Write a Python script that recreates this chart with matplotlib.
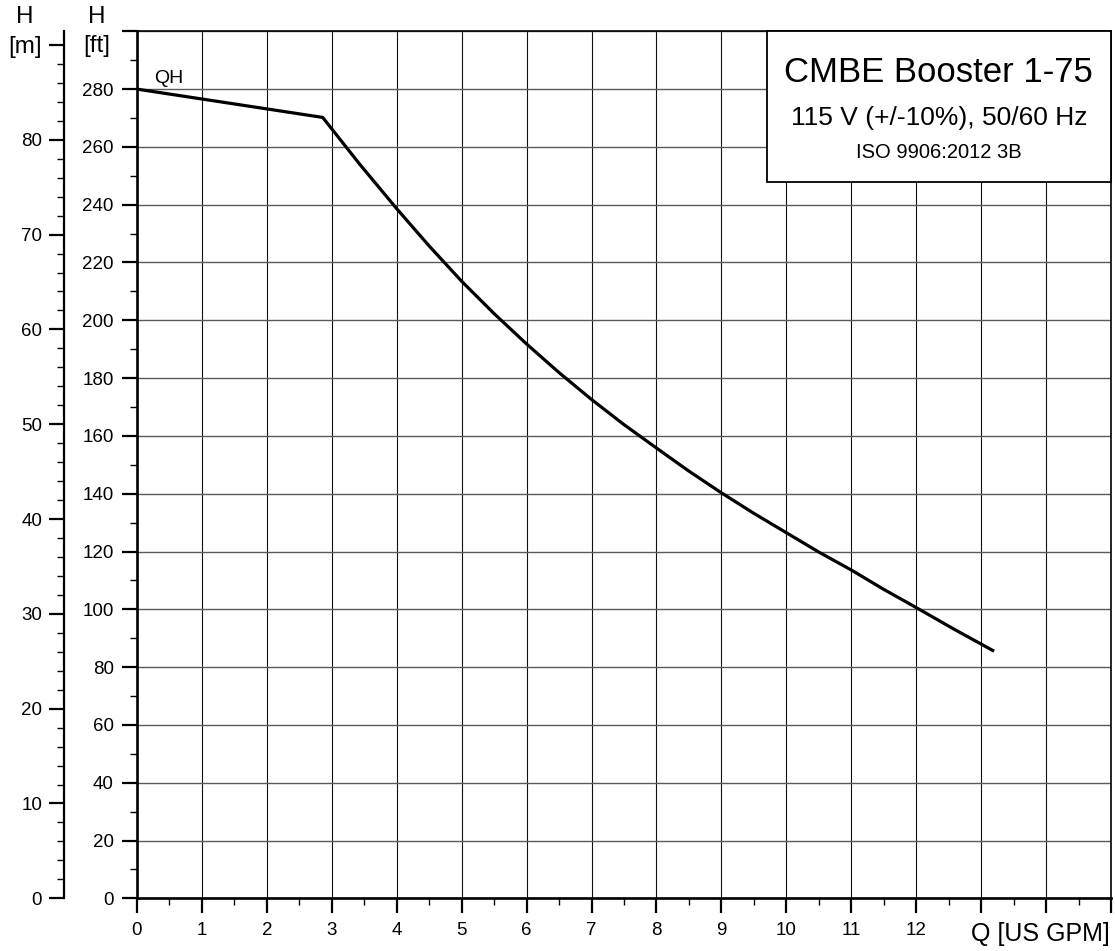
import matplotlib
matplotlib.use("Agg")
import matplotlib.pyplot as plt
from matplotlib.patches import Rectangle
from matplotlib.ticker import MultipleLocator

plt.rcParams['font.family'] = ['Liberation Sans', 'DejaVu Sans']

# Data (flow Q [US GPM], head H [ft])
q_gpm = [0, 2.86, 3.43, 4.0, 4.5, 5.0, 5.5, 6.0, 6.5, 7.0, 7.5, 8.0, 8.5, 9.0,
         9.5, 10.0, 10.5, 11.0, 11.5, 12.0, 12.6, 13.2]
h_ft = [280, 270.2, 254.0, 238.6, 225.7, 213.5, 202.3, 191.8, 181.9, 172.6, 163.9, 155.8, 147.8, 140.3,
        133.2, 126.5, 119.8, 113.6, 106.9, 100.6, 92.9, 85.5]

x_ticks = list(range(0, 16))
x_labels = [str(i) for i in range(0, 13)] + ["", "", ""]
ft_ticks = list(range(0, 301, 20))
ft_labels = [str(v) for v in range(0, 281, 20)] + [""]
m_ticks = list(range(0, 91, 10))
m_labels = [str(v) for v in range(0, 81, 10)] + ["[m]"]

title_lines = ["CMBE Booster 1-75", "115 V (+/-10%), 50/60 Hz", "ISO 9906:2012 3B"]

W, H = 1115, 951
fig = plt.figure(figsize=(W / 100, H / 100), dpi=100)

left, right, top, bottom = 137, 1111, 31.3, 898.3
ax = fig.add_axes([left / W, 1 - bottom / H, (right - left) / W, (bottom - top) / H])
ax.set_xlim(0, 15)
ax.set_ylim(0, 300)

ax.set_xticks(x_ticks)
ax.set_xticklabels(x_labels)
ax.xaxis.set_minor_locator(MultipleLocator(0.5))
ax.set_yticks(ft_ticks)
ax.set_yticklabels(ft_labels)
ax.yaxis.set_minor_locator(MultipleLocator(10))

ax.tick_params(which='major', length=10.8, width=1.6, direction='out', labelsize=13.5, pad=6, color='black')
ax.tick_params(which='minor', length=5, width=1.0, direction='out', color='black')

ax.xaxis.grid(True, which='major', color='#111111', lw=0.8)
ax.yaxis.grid(True, which='major', color='#5a5a5a', lw=1.0)
ax.set_axisbelow(True)

for s in ['left', 'bottom']:
    ax.spines[s].set_linewidth(1.9)
for s in ['top', 'right']:
    ax.spines[s].set_linewidth(1.2)

ax.plot(q_gpm, h_ft, color='black', lw=2.3, solid_joinstyle='round', solid_capstyle='butt', zorder=5)

ax.text(154 / W, 1 - 83 / H, "QH", transform=fig.transFigure, fontsize=14, ha='left', va='baseline')

# Title box
bx0 = (766.7 - left) / (right - left)
by0 = (bottom - 182.3) / (bottom - top)
rect = Rectangle((bx0, by0), 1 - bx0, 1 - by0, transform=ax.transAxes, facecolor='white',
                 edgecolor='black', lw=1.3, zorder=10, clip_on=False)
ax.add_patch(rect)
cx = (bx0 + 1) / 2
for txt, ypx, fs in zip(title_lines, [72.8, 117.5, 152.5], [25, 19, 14.5]):
    ax.text(cx, (bottom - ypx) / (bottom - top), txt, transform=ax.transAxes, fontsize=fs,
            ha='center', va='center', zorder=11)

# Secondary metre axis
axm = fig.add_axes([64 / W, 1 - bottom / H, 0.0001, (bottom - top) / H])
axm.set_ylim(0, 300 / 3.28084)
axm.set_xticks([])
for s in ['top', 'right', 'bottom']:
    axm.spines[s].set_visible(False)
axm.spines['left'].set_linewidth(1.6)
axm.patch.set_visible(False)
axm.set_yticks(m_ticks)
axm.set_yticklabels(m_labels)
axm.yaxis.set_minor_locator(MultipleLocator(2))
axm.tick_params(which='major', length=10.8, width=1.6, direction='out', labelsize=13.5, pad=5)
axm.tick_params(which='minor', length=5, width=1.0, direction='out')
for lbl in axm.get_yticklabels():
    if lbl.get_text() == "[m]":
        lbl.set_fontsize(17.5)

# Axis labels
fig.text(25 / W, 1 - 17 / H, "H", fontsize=17.5, ha='center', va='center')
fig.text(97 / W, 1 - 17 / H, "H", fontsize=17.5, ha='center', va='center')
fig.text(97 / W, 1 - 46 / H, "[ft]", fontsize=17.5, ha='center', va='center')
fig.text(1110 / W, 1 - 934 / H, "Q [US GPM]", fontsize=18, ha='right', va='center')

fig.savefig("out.png", dpi=100)
